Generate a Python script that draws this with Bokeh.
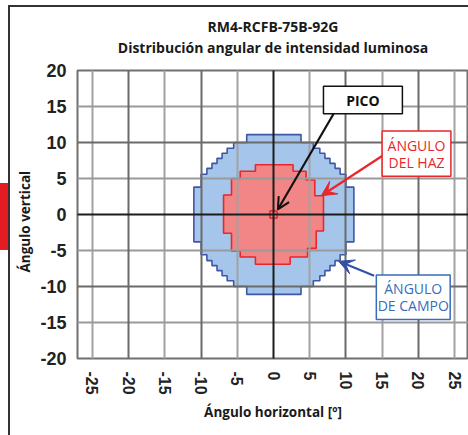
from bokeh.plotting import figure
from bokeh.models import FixedTicker, Grid, Arrow, OpenHead, VeeHead, Range1d, Title
from bokeh.embed import file_html
from bokeh.resources import INLINE
from bokeh.core.properties import value

# ---------------- data ----------------
TITLE_1 = "RM4-RCFB-75B-92G"
TITLE_2 = "Distribución angular de intensidad luminosa"
X_LABEL = "Ángulo horizontal [º]"
Y_LABEL = "Ángulo vertical"

X_TICKS = [-25, -20, -15, -10, -5, 0, 5, 10, 15, 20, 25]
Y_TICKS = [-20, -15, -10, -5, 0, 5, 10, 15, 20]

# field angle outline (blue staircase), degrees
FIELD_X = [-3.7, 3.8, 3.8, 5.5, 5.5, 6.4, 6.4, 7.1, 7.1, 7.8, 7.8, 8.5, 8.5, 9.2, 9.2, 10.0, 10.0, 11.1,
           11.1, 10.0, 10.0, 9.2, 9.2, 8.5, 8.5, 7.8, 7.8, 7.1, 7.1, 6.4, 6.4, 5.5, 5.5, 3.8, 3.8,
           -3.7, -3.7, -5.5, -5.5, -6.4, -6.4, -7.1, -7.1, -7.8, -7.8, -8.5, -8.5, -9.2, -9.2, -10.0, -10.0, -11.0,
           -11.0, -10.0, -10.0, -9.2, -9.2, -8.5, -8.5, -7.8, -7.8, -7.1, -7.1, -6.4, -6.4, -5.5, -5.5, -3.7]
FIELD_Y = [11.1, 11.1, 10.0, 10.0, 9.2, 9.2, 8.5, 8.5, 7.8, 7.8, 7.1, 7.1, 6.4, 6.4, 5.6, 5.6, 3.8, 3.8,
           -3.8, -3.8, -5.6, -5.6, -6.4, -6.4, -7.1, -7.1, -7.8, -7.8, -8.5, -8.5, -9.2, -9.2, -10.0, -10.0, -11.1,
           -11.1, -10.0, -10.0, -9.2, -9.2, -8.5, -8.5, -7.8, -7.8, -7.1, -7.1, -6.4, -6.4, -5.6, -5.6, -3.8, -3.8,
           3.8, 3.8, 5.6, 5.6, 6.4, 6.4, 7.1, 7.1, 7.8, 7.8, 8.5, 8.5, 9.2, 9.2, 10.0, 10.0]

# beam angle outline (red staircase), degrees
BEAM_X = [-2.5, 2.7, 2.7, 4.5, 4.5, 5.7, 5.7, 6.9,
          6.9, 5.9, 5.9, 4.7, 4.7, 2.3, 2.3,
          -2.5, -2.5, -4.6, -4.6, -5.8, -5.8, -6.9,
          -6.9, -5.8, -5.8, -4.6, -4.6, -2.5]
BEAM_Y = [6.9, 6.9, 6.0, 6.0, 4.8, 4.8, 2.6, 2.6,
          -2.3, -2.3, -4.7, -4.7, -5.9, -5.9, -6.9,
          -6.9, -5.9, -5.9, -5.1, -5.1, -2.6, -2.6,
          2.7, 2.7, 5.0, 5.0, 6.0, 6.0]

# peak cell
PEAK_X = [0.0]
PEAK_Y = [0.0]
PEAK_W = [1.0]

# callouts: PICO, beam angle, field angle
BOX_LEFT = [6.9, 15.0, 14.2]
BOX_RIGHT = [17.8, 24.5, 24.4]
BOX_TOP = [17.8, 11.6, -8.4]
BOX_BOTTOM = [14.0, 5.3, -14.6]
BOX_LINES = [["PICO"], ["ÁNGULO", "DEL HAZ"], ["ÁNGULO", "DE CAMPO"]]
ARROW_X0 = [8.3, 15.1, 13.9]
ARROW_Y0 = [14.0, 8.2, -8.5]
ARROW_X1 = [0.6, 6.6, 9.0]
ARROW_Y1 = [0.7, 2.6, -6.5]

# ---------------- styling ----------------
FONT = "Open Sans"
TICK_FONT = "Liberation Sans"
CALLOUT_COLORS = ["#111111", "#e8262b", "#3a6cba"]
ARROW_COLORS = ["#111111", "#e8262b", "#3450a4"]

page_bg = ("linear-gradient(#333333,#333333) 8px 5px / 2px 100% no-repeat, "
           "linear-gradient(#333333,#333333) 8px 5px / 100% 2px no-repeat, "
           "linear-gradient(#e31b23,#e31b23) 0px 183px / 8px 67px no-repeat, white")

p = figure(width=468, height=435,
           x_range=Range1d(-27.07, 26.93), y_range=Range1d(-20, 20),
           output_backend="svg", toolbar_location=None,
           min_border_left=77, min_border_right=0, min_border_top=70, min_border_bottom=77,
           background_fill_color="white", border_fill_color=None,
           styles={"background": page_bg})

# titles: spacer (closest to frame), second line, then main title (outermost)
title_style = dict(align="center", text_font=FONT, text_font_size="14px",
                   text_font_style="bold", text_color="#1a1a1a")
p.add_layout(Title(text=" ", align="center", text_font_size="2px", standoff=10), "above")
p.add_layout(Title(text=TITLE_2, standoff=0, **title_style), "above")
p.title.text = TITLE_1
p.title.align = "center"
p.title.text_font = FONT
p.title.text_font_size = "14px"
p.title.text_font_style = "bold"
p.title.text_color = "#1a1a1a"
p.title.standoff = 0

p.outline_line_color = "#707070"
p.outline_line_width = 2

# axes
for ax in (p.xaxis, p.yaxis):
    ax.axis_line_color = None
    ax.major_tick_line_color = None
    ax.minor_tick_line_color = None
    ax.major_label_text_font = TICK_FONT
    ax.major_label_text_font_style = "bold"
    ax.major_label_text_color = "#222222"
p.xaxis.ticker = FixedTicker(ticks=X_TICKS)
p.yaxis.ticker = FixedTicker(ticks=Y_TICKS)
p.xaxis.major_label_overrides = {t: str(t) for t in X_TICKS}
p.yaxis.major_label_overrides = {t: str(t) for t in Y_TICKS}
p.xaxis.major_label_orientation = "vertical"
p.xaxis.major_label_text_font_size = "16px"
p.yaxis.major_label_text_font_size = "18px"
p.xaxis.major_label_standoff = 7
p.yaxis.major_label_standoff = 5

p.xaxis.axis_label = X_LABEL
p.xaxis.axis_label_text_font = FONT
p.xaxis.axis_label_text_font_size = "13.5px"
p.xaxis.axis_label_text_font_style = "bold"
p.xaxis.axis_label_text_color = "#1a1a1a"
p.xaxis.axis_label_standoff = 5

ty = Title(text=Y_LABEL, align="left", text_font=FONT, text_font_size="13.5px",
           text_font_style="bold", text_color="#1a1a1a", standoff=7, offset=86)
p.add_layout(ty, "left")

# shapes
p.patch(FIELD_X, FIELD_Y, fill_color="#a5c6ea", line_color="#3f56a6", line_width=1.6)
p.patch(BEAM_X, BEAM_Y, fill_color="#f28686", line_color="#e8262b", line_width=1.6)
p.rect(x=PEAK_X, y=PEAK_Y, width=PEAK_W, height=PEAK_W, fill_color="#f07a7a",
       line_color="#d02020", line_width=1.2)

# grids drawn over the shapes
p.xgrid.visible = False
p.ygrid.visible = False
major10_x = [t for t in X_TICKS if t % 10 == 0 and t != 0]
minor5_x = [t for t in X_TICKS if t % 10 != 0]
major10_y = [t for t in Y_TICKS if t % 10 == 0 and t != 0 and abs(t) != 20]
minor5_y = [t for t in Y_TICKS if t % 10 != 0]
for dim, ticks, col in [(0, minor5_x, "#a2a2a2"), (1, minor5_y, "#9a9a9a"),
                        (0, major10_x, "#6a6a6a"), (1, major10_y, "#6a6a6a"),
                        (0, [0], "#1c1c1c"), (1, [0], "#1c1c1c")]:
    g = Grid(dimension=dim, ticker=FixedTicker(ticks=ticks), grid_line_color=col,
             grid_line_width=2, level="guide")
    p.add_layout(g)

# arrows
for i in range(3):
    if i == 0:
        head = OpenHead(size=12, line_color=ARROW_COLORS[i], line_width=2)
    else:
        head = VeeHead(size=15, fill_color=ARROW_COLORS[i], line_color=ARROW_COLORS[i])
    p.add_layout(Arrow(end=head, x_start=ARROW_X0[i], y_start=ARROW_Y0[i],
                       x_end=ARROW_X1[i], y_end=ARROW_Y1[i],
                       line_color=ARROW_COLORS[i], line_width=2.2))

# callout boxes
p.quad(left=BOX_LEFT, right=BOX_RIGHT, top=BOX_TOP, bottom=BOX_BOTTOM,
       fill_color="white", line_color=CALLOUT_COLORS, line_width=1.5, level="overlay")

line_gap = 2.35
for i in range(3):
    cx = (BOX_LEFT[i] + BOX_RIGHT[i]) / 2
    cy = (BOX_TOP[i] + BOX_BOTTOM[i]) / 2
    lines = BOX_LINES[i]
    n = len(lines)
    ys = [cy + (n - 1) / 2 * line_gap - k * line_gap for k in range(n)]
    p.text(x=[cx] * n, y=ys, text=lines, text_font=value(FONT),
           text_font_size="14px", text_font_style="bold" if i == 0 else "normal",
           text_color=CALLOUT_COLORS[i], text_align="center", text_baseline="middle",
           level="overlay")

open("out.html", "w").write(file_html(p, INLINE))
